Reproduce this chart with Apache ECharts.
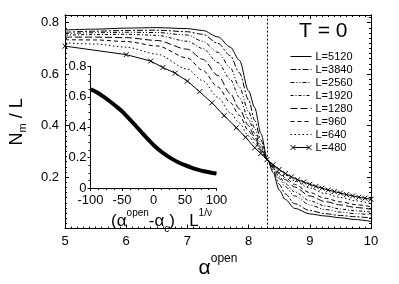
<!DOCTYPE html>
<html><head><meta charset="utf-8">
<script src="https://cdn.jsdelivr.net/npm/echarts@6/dist/echarts.min.js"></script>
<style>html,body{margin:0;padding:0;background:#fff}#c{width:399px;height:284px}</style>
</head><body><div id="c"></div>
<script>
// ---- data ----
const alphaGrid = [5, 5.5, 6, 6.5, 7, 7.25, 7.5, 7.7, 7.85, 8.0, 8.1, 8.2, 8.31, 8.4, 8.5, 8.6, 8.75, 9.0, 9.25, 9.5, 9.75, 10];
const nm5120 = [0.772, 0.775, 0.779, 0.781, 0.777, 0.770, 0.745, 0.705, 0.654, 0.535, 0.470, 0.370, 0.267, 0.218, 0.150, 0.113, 0.079, 0.057, 0.049, 0.042, 0.035, 0.028];
const nm3840 = [0.763, 0.767, 0.770, 0.771, 0.765, 0.755, 0.720, 0.672, 0.605, 0.500, 0.420, 0.345, 0.267, 0.228, 0.172, 0.135, 0.097, 0.070, 0.058, 0.051, 0.046, 0.041];
const nm2560 = [0.758, 0.761, 0.763, 0.762, 0.752, 0.728, 0.685, 0.625, 0.550, 0.455, 0.390, 0.325, 0.267, 0.235, 0.195, 0.163, 0.127, 0.092, 0.074, 0.064, 0.058, 0.054];
const nm1920 = [0.752, 0.754, 0.755, 0.751, 0.728, 0.700, 0.645, 0.580, 0.510, 0.425, 0.370, 0.315, 0.267, 0.236, 0.203, 0.175, 0.143, 0.108, 0.088, 0.076, 0.069, 0.064];
const nm1280 = [0.744, 0.744, 0.742, 0.731, 0.697, 0.658, 0.595, 0.525, 0.465, 0.400, 0.355, 0.307, 0.267, 0.240, 0.213, 0.190, 0.162, 0.127, 0.105, 0.092, 0.082, 0.075];
const nm960  = [0.734, 0.733, 0.727, 0.710, 0.663, 0.615, 0.550, 0.490, 0.440, 0.380, 0.345, 0.302, 0.267, 0.243, 0.218, 0.198, 0.172, 0.140, 0.118, 0.104, 0.093, 0.085];
const nm640  = [0.722, 0.717, 0.705, 0.678, 0.620, 0.575, 0.510, 0.450, 0.410, 0.360, 0.330, 0.298, 0.267, 0.247, 0.226, 0.208, 0.186, 0.158, 0.136, 0.121, 0.108, 0.097];
const alpha480 = [5, 6, 6.4, 6.6, 6.8, 7.0, 7.2, 7.4, 7.6, 7.8, 7.95, 8.1, 8.2, 8.3, 8.4, 8.5, 8.6, 8.7, 8.8, 8.9, 9.0, 9.1, 9.2, 9.3, 9.4, 9.5, 9.6, 9.7, 9.8, 9.9, 10];
const nm480  = [0.709, 0.676, 0.651, 0.626, 0.604, 0.573, 0.532, 0.489, 0.439, 0.392, 0.355, 0.314, 0.292, 0.268, 0.248, 0.230, 0.214, 0.201, 0.190, 0.181, 0.172, 0.164, 0.157, 0.150, 0.144, 0.138, 0.132, 0.127, 0.122, 0.118, 0.114];
const scaledX = [-100, -90, -80, -70, -60, -50, -40, -30, -20, -10, 0, 10, 20, 30, 40, 50, 60, 70, 80, 90, 100];
const scaledY = [0.650, 0.630, 0.603, 0.573, 0.540, 0.505, 0.462, 0.418, 0.372, 0.326, 0.283, 0.247, 0.216, 0.190, 0.168, 0.150, 0.134, 0.121, 0.110, 0.102, 0.096];
const alphaC = 8.31;
const seriesNames = ['L=5120', 'L=3840', 'L=2560', 'L=1920', 'L=1280', 'L=960', 'L=640', 'L=480'];

// ---- styles ----
const FONT = 'Liberation Sans, Arial, Helvetica, sans-serif';
const dashes = [null, [6, 2, 2, 2], [4, 2, 1, 2, 1, 2], [3, 2, 1, 2], [7, 3], [4, 3], [1.5, 2.5], null];
const sets = [nm5120, nm3840, nm2560, nm1920, nm1280, nm960, nm640];
const CLEAR = 'rgba(0,0,0,0)';

const zip = (xs, ys) => xs.map((x, i) => [x, ys[i]]);

const series = sets.map((ys, i) => ({
  name: seriesNames[i], type: 'line', xAxisIndex: 0, yAxisIndex: 0,
  data: zip(alphaGrid, ys), symbol: 'none', smooth: 0.3, smoothMonotone: 'x',
  lineStyle: { color: '#000', width: 1, type: dashes[i] || 'solid' },
  itemStyle: { color: CLEAR, borderWidth: 0 }, silent: true, z: 3
}));
series[0].markLine = {
  silent: true, symbol: ['none', 'none'], label: { show: false },
  lineStyle: { color: '#000', width: 1, type: [2, 2] },
  data: [{ xAxis: alphaC }]
};
series.push({
  name: 'L=480', type: 'line', xAxisIndex: 0, yAxisIndex: 0,
  data: zip(alpha480, nm480), symbol: 'path://M0,0L10,10M10,0L0,10', symbolSize: 5,
  showAllSymbol: true,
  lineStyle: { color: '#000', width: 1 },
  itemStyle: { color: CLEAR, borderColor: '#000', borderWidth: 1 }, silent: true, z: 4
});
series.push({
  type: 'line', xAxisIndex: 2, yAxisIndex: 4,
  data: zip(scaledX, scaledY), symbol: 'none', smooth: 0.3,
  lineStyle: { color: '#000', width: 4 }, silent: true, z: 5
});

const axisLine = { show: true, onZero: false, lineStyle: { color: '#000', width: 1 } };
const noLabel = { show: false };
const lbl = { color: '#000', fontSize: 13, fontFamily: FONT };

const legendData = seriesNames.map(n => n === 'L=480'
  ? { name: n, icon: 'path://M0,0M21,7M0,1L5,6M5,1L0,6M2.5,3.5L18.5,3.5M16,1L21,6M21,1L16,6',
      itemStyle: { color: CLEAR, borderColor: '#000', borderWidth: 1 } }
  : { name: n });

const option = {
  animation: false,
  backgroundColor: '#fff',
  title: {
    text: 'T = 0', left: 299, top: 21, padding: 0,
    textStyle: { fontSize: 21, fontWeight: 'normal', color: '#000', fontFamily: FONT }
  },
  legend: {
    orient: 'vertical', left: 290, top: 51, padding: 0, itemGap: 2,
    itemWidth: 21, itemHeight: 7, selectedMode: false,
    data: legendData,
    textStyle: { fontSize: 11, color: '#000', fontFamily: FONT, padding: [0, 0, 0, -1] },
    lineStyle: { width: 1 }
  },
  grid: [
    { left: 59, right: 28, top: 15, bottom: 47 },
    { left: 90.5, right: 182.5, top: 66.5, bottom: 96 }
  ],
  xAxis: [
    { type: 'value', gridIndex: 0, position: 'bottom', min: 5, max: 10, interval: 1,
      axisLine, axisTick: { inside: true, length: 4, lineStyle: { color: '#000' } },
      minorTick: { show: true, splitNumber: 10, length: 2, lineStyle: { color: '#000' } },
      axisLabel: Object.assign({ margin: 6 }, lbl), splitLine: { show: false },
      name: '{a|α}{s|open}', nameLocation: 'middle', nameGap: 12,
      nameTextStyle: { rich: {
        a: { fontSize: 21, lineHeight: 32, color: '#000', fontFamily: FONT },
        s: { fontSize: 12, lineHeight: 12, verticalAlign: 'top', color: '#000', fontFamily: FONT }
      } } },
    { type: 'value', gridIndex: 0, position: 'top', min: 5, max: 10, interval: 1,
      axisLine, axisTick: { inside: true, length: 4, lineStyle: { color: '#000' } },
      minorTick: { show: true, splitNumber: 10, length: 2, lineStyle: { color: '#000' } },
      axisLabel: noLabel, splitLine: { show: false } },
    { type: 'value', gridIndex: 1, position: 'bottom', min: -100, max: 100, interval: 50,
      axisLine, axisTick: { inside: false, length: 3, lineStyle: { color: '#000' } },
      minorTick: { show: true, splitNumber: 4, length: 2, lineStyle: { color: '#000' } },
      axisLabel: Object.assign({ margin: 6 }, lbl), splitLine: { show: false },
      name: '{p|(α}{s|open}{p|-α}{b|c}{p|)   L}{s|1/ν}', nameLocation: 'middle', nameGap: 17,
      nameTextStyle: { padding: [0, 0, 0, 16], rich: {
        p: { fontSize: 17, lineHeight: 26, color: '#000', fontFamily: FONT },
        s: { fontSize: 10, lineHeight: 10, verticalAlign: 'top', color: '#000', fontFamily: FONT },
        b: { fontSize: 10, lineHeight: 10, verticalAlign: 'bottom', color: '#000', fontFamily: FONT }
      } } }
  ],
  yAxis: [
    { type: 'value', gridIndex: 0, position: 'left', min: 0, max: 0.83, interval: 0.2,
      axisLine, axisTick: { inside: true, length: 4, lineStyle: { color: '#000' } },
      axisLabel: Object.assign({ margin: 6, showMaxLabel: false,
        formatter: v => (v > 0.01 && Math.abs(v * 5 - Math.round(v * 5)) < 1e-6) ? v.toFixed(1) : '' }, lbl),
      splitLine: { show: false },
      name: '{n|N}{m|m}{n| / L}', nameLocation: 'middle', nameRotate: 90, nameGap: 37,
      nameTextStyle: { rich: {
        n: { fontSize: 18, lineHeight: 22, color: '#000', fontFamily: FONT },
        m: { fontSize: 11, lineHeight: 11, verticalAlign: 'bottom', color: '#000', fontFamily: FONT }
      } } },
    { type: 'value', gridIndex: 0, position: 'left', min: 0, max: 0.83, interval: 0.02,
      axisLine, axisTick: { inside: true, length: 2, lineStyle: { color: '#000' } },
      axisLabel: noLabel, splitLine: { show: false } },
    { type: 'value', gridIndex: 0, position: 'right', min: 0, max: 0.83, interval: 0.2,
      axisLine, axisTick: { inside: true, length: 4, lineStyle: { color: '#000' } },
      axisLabel: noLabel, splitLine: { show: false } },
    { type: 'value', gridIndex: 0, position: 'right', min: 0, max: 0.83, interval: 0.02,
      axisLine, axisTick: { inside: true, length: 2, lineStyle: { color: '#000' } },
      axisLabel: noLabel, splitLine: { show: false } },
    { type: 'value', gridIndex: 1, position: 'left', min: 0, max: 0.8, interval: 0.2,
      axisLine, axisTick: { inside: false, length: 3, lineStyle: { color: '#000' } },
      minorTick: { show: true, splitNumber: 4, length: 2, lineStyle: { color: '#000' } },
      axisLabel: Object.assign({ margin: 4, formatter: v => v === 0 ? '0' : v.toFixed(1) }, lbl),
      splitLine: { show: false } }
  ],
  series
};
const chart = echarts.init(document.getElementById('c'), null, { renderer: 'canvas' });
chart.setOption(option);
</script>
</body></html>
